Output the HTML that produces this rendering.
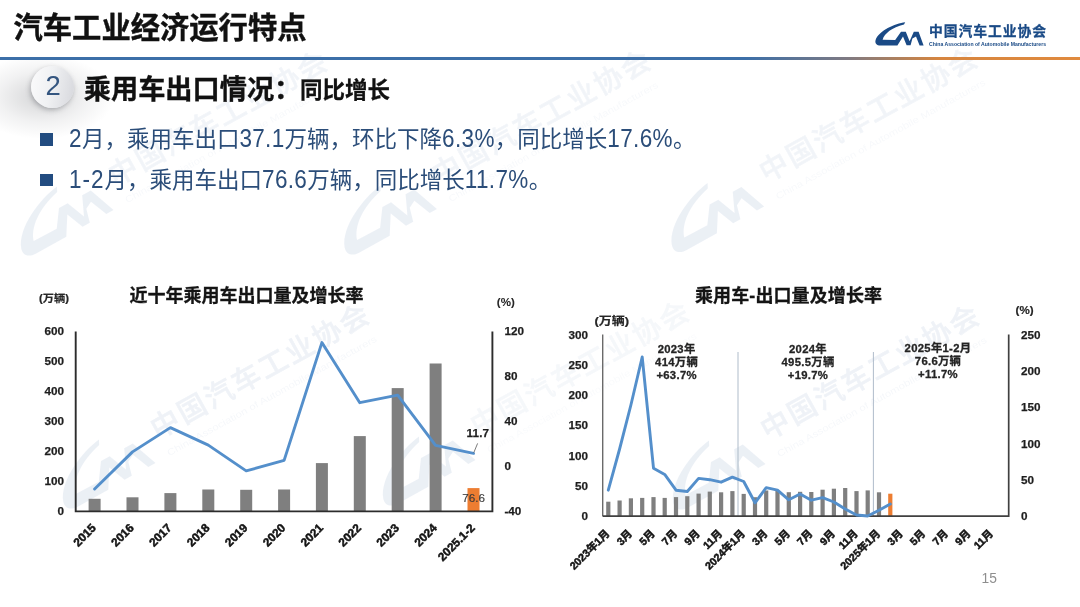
<!DOCTYPE html>
<html lang="zh-CN">
<head>
<meta charset="utf-8">
<title>汽车工业经济运行特点</title>
<style>
html,body{margin:0;padding:0;background:#fff;}
body{width:1080px;height:607px;overflow:hidden;position:relative;font-family:"Liberation Sans", "Noto Sans CJK SC", sans-serif;}
#stage{position:absolute;left:0;top:0;width:1080px;height:607px;overflow:hidden;filter:blur(.45px);background:#fff;}
.abs{position:absolute;white-space:nowrap;}
#title{left:13.5px;top:6px;font-size:29.3px;font-weight:700;color:#111;line-height:44px;letter-spacing:0;-webkit-text-stroke:.4px #111;}
#rule{left:0;top:56.8px;width:1080px;height:2.8px;background:linear-gradient(90deg,#3c6fa8 0%,#3c6fa8 69%,#7f7a82 78.5%,#d6853f 87%,#e08a3e 100%);}
#glow{left:-30px;top:55px;width:170px;height:100px;background:radial-gradient(ellipse 72px 42px at 72px 42px,rgba(90,92,98,.26),rgba(120,122,128,.10) 60%,rgba(255,255,255,0) 100%);}
#badge{left:30.6px;top:66.3px;width:43px;height:42px;border-radius:50%;background:linear-gradient(100deg,#fbfbfc 0%,#f0f1f3 45%,#d6d7dc 100%);box-shadow:-1px 2px 5px rgba(80,82,90,.38);}
#num{left:31.6px;top:64.4px;width:43px;height:43px;line-height:43px;text-align:center;font-size:27.5px;color:#34557f;}
#sub1{left:83.8px;top:70.6px;font-size:27.2px;font-weight:700;color:#111;line-height:38px;-webkit-text-stroke:.35px #111;}
#sub2{left:300px;top:73.5px;font-size:22.5px;font-weight:700;color:#111;line-height:34px;-webkit-text-stroke:.3px #111;}
.bul{left:40.2px;width:12.6px;height:12.2px;background:#224c80;}
.bt{left:69px;font-size:22.5px;color:#2b4d79;line-height:30px;}
.bt i{font-style:normal;letter-spacing:.35px;display:inline-block;transform:translateY(.4px) scaleY(1.12);transform-origin:50% 76%;}
#pg{left:981.5px;top:570.6px;font-size:13.8px;color:#8e8e8e;line-height:16px;}
svg{position:absolute;left:0;top:0;}
svg text{font-family:"Liberation Sans", "Noto Sans CJK SC", sans-serif;}
.ax{font-size:11.7px;font-weight:700;fill:#1e1e1e;stroke:#1e1e1e;stroke-width:.25px;}
.xl{font-size:11.8px;font-weight:700;fill:#141414;stroke:#141414;stroke-width:.5px;}
.axs{font-size:10.7px;font-weight:700;fill:#141414;stroke:#141414;stroke-width:.5px;}
.unit{font-size:10.5px;font-weight:700;fill:#262626;stroke:#262626;stroke-width:.2px;}
.unit2{font-size:11.6px;font-weight:700;fill:#262626;stroke:#262626;stroke-width:.2px;}
.ctitle{font-size:18px;font-weight:700;fill:#141414;stroke:#141414;stroke-width:.3px;}
.ann{font-size:11.3px;font-weight:700;fill:#242424;stroke:#242424;stroke-width:.3px;letter-spacing:.3px;}
</style>
</head>
<body>
<div id="stage">
<svg id="wm" width="1080" height="607" viewBox="0 0 1080 607"><g transform="translate(-15,207) rotate(-29)" opacity="0.085"><g transform="translate(0,0) scale(2.07)" fill="#2a5a9a"><path d="M35.2,8.2 C25,9.5 9,16.5 5.6,26 C4.6,29.5 6.8,31.6 10.5,31.6 L27.4,31.6 L33,22.5 L36.6,31.2 L40.6,31.2 L42.4,24.5 L46,22.6 L49.6,31.4 L53.6,31.4 L48.6,17.8 L43.8,17.8 L39.6,27.2 L35.8,17.8 L31,17.8 L25.2,26 L12.6,25.8 C14.5,19.5 22,13.5 34,10.6 Z"/><g opacity="0.7"><text x="60" y="21.9" font-size="13.8" font-weight="500" textLength="118" lengthAdjust="spacing" stroke="#2a5a9a" stroke-width=".28">中国汽车工业协会</text><text x="61" y="31.8" font-size="4.5" font-weight="400" textLength="115" lengthAdjust="spacingAndGlyphs" opacity="0.6">China Association of Automobile Manufacturers</text></g></g></g><g transform="translate(308.4,206) rotate(-29)" opacity="0.085"><g transform="translate(0,0) scale(2.07)" fill="#2a5a9a"><path d="M35.2,8.2 C25,9.5 9,16.5 5.6,26 C4.6,29.5 6.8,31.6 10.5,31.6 L27.4,31.6 L33,22.5 L36.6,31.2 L40.6,31.2 L42.4,24.5 L46,22.6 L49.6,31.4 L53.6,31.4 L48.6,17.8 L43.8,17.8 L39.6,27.2 L35.8,17.8 L31,17.8 L25.2,26 L12.6,25.8 C14.5,19.5 22,13.5 34,10.6 Z"/><g opacity="0.7"><text x="60" y="21.9" font-size="13.8" font-weight="500" textLength="118" lengthAdjust="spacing" stroke="#2a5a9a" stroke-width=".28">中国汽车工业协会</text><text x="61" y="31.8" font-size="4.5" font-weight="400" textLength="115" lengthAdjust="spacingAndGlyphs" opacity="0.6">China Association of Automobile Manufacturers</text></g></g></g><g transform="translate(635.6,203.5) rotate(-29)" opacity="0.085"><g transform="translate(0,0) scale(2.07)" fill="#2a5a9a"><path d="M35.2,8.2 C25,9.5 9,16.5 5.6,26 C4.6,29.5 6.8,31.6 10.5,31.6 L27.4,31.6 L33,22.5 L36.6,31.2 L40.6,31.2 L42.4,24.5 L46,22.6 L49.6,31.4 L53.6,31.4 L48.6,17.8 L43.8,17.8 L39.6,27.2 L35.8,17.8 L31,17.8 L25.2,26 L12.6,25.8 C14.5,19.5 22,13.5 34,10.6 Z"/><g opacity="0.7"><text x="60" y="21.9" font-size="13.8" font-weight="500" textLength="118" lengthAdjust="spacing" stroke="#2a5a9a" stroke-width=".28">中国汽车工业协会</text><text x="61" y="31.8" font-size="4.5" font-weight="400" textLength="115" lengthAdjust="spacingAndGlyphs" opacity="0.6">China Association of Automobile Manufacturers</text></g></g></g><g transform="translate(27,460) rotate(-29)" opacity="0.085"><g transform="translate(0,0) scale(2.07)" fill="#2a5a9a"><path d="M35.2,8.2 C25,9.5 9,16.5 5.6,26 C4.6,29.5 6.8,31.6 10.5,31.6 L27.4,31.6 L33,22.5 L36.6,31.2 L40.6,31.2 L42.4,24.5 L46,22.6 L49.6,31.4 L53.6,31.4 L48.6,17.8 L43.8,17.8 L39.6,27.2 L35.8,17.8 L31,17.8 L25.2,26 L12.6,25.8 C14.5,19.5 22,13.5 34,10.6 Z"/><g opacity="0.85"><text x="60" y="21.9" font-size="13.8" font-weight="500" textLength="118" lengthAdjust="spacing" stroke="#2a5a9a" stroke-width=".28">中国汽车工业协会</text><text x="61" y="31.8" font-size="4.5" font-weight="400" textLength="115" lengthAdjust="spacingAndGlyphs" opacity="0.6">China Association of Automobile Manufacturers</text></g></g></g><g transform="translate(347,457) rotate(-29)" opacity="0.085"><g transform="translate(0,0) scale(2.07)" fill="#2a5a9a"><path d="M35.2,8.2 C25,9.5 9,16.5 5.6,26 C4.6,29.5 6.8,31.6 10.5,31.6 L27.4,31.6 L33,22.5 L36.6,31.2 L40.6,31.2 L42.4,24.5 L46,22.6 L49.6,31.4 L53.6,31.4 L48.6,17.8 L43.8,17.8 L39.6,27.2 L35.8,17.8 L31,17.8 L25.2,26 L12.6,25.8 C14.5,19.5 22,13.5 34,10.6 Z"/><g opacity="0.5"><text x="60" y="21.9" font-size="13.8" font-weight="500" textLength="118" lengthAdjust="spacing" stroke="#2a5a9a" stroke-width=".28">中国汽车工业协会</text><text x="61" y="31.8" font-size="4.5" font-weight="400" textLength="115" lengthAdjust="spacingAndGlyphs" opacity="0.6">China Association of Automobile Manufacturers</text></g></g></g><g transform="translate(637,461) rotate(-29)" opacity="0.085"><g transform="translate(0,0) scale(2.07)" fill="#2a5a9a"><path d="M35.2,8.2 C25,9.5 9,16.5 5.6,26 C4.6,29.5 6.8,31.6 10.5,31.6 L27.4,31.6 L33,22.5 L36.6,31.2 L40.6,31.2 L42.4,24.5 L46,22.6 L49.6,31.4 L53.6,31.4 L48.6,17.8 L43.8,17.8 L39.6,27.2 L35.8,17.8 L31,17.8 L25.2,26 L12.6,25.8 C14.5,19.5 22,13.5 34,10.6 Z"/><g opacity="0.85"><text x="60" y="21.9" font-size="13.8" font-weight="500" textLength="118" lengthAdjust="spacing" stroke="#2a5a9a" stroke-width=".28">中国汽车工业协会</text><text x="61" y="31.8" font-size="4.5" font-weight="400" textLength="115" lengthAdjust="spacingAndGlyphs" opacity="0.6">China Association of Automobile Manufacturers</text></g></g></g></svg>
<div class="abs" id="glow"></div>
<div class="abs" id="title">汽车工业经济运行特点</div>
<div class="abs" id="rule"></div>
<div class="abs" id="badge"></div>
<div class="abs" id="num">2</div>
<div class="abs" id="sub1">乘用车出口情况：</div>
<div class="abs" id="sub2">同比增长</div>
<div class="abs bul" style="top:133.4px"></div>
<div class="abs bt" style="top:124.7px"><i>2</i>月，乘用车出口<i>37.1</i>万辆，环比下降<i>6.3%</i>，同比增长<i>17.6%</i>。</div>
<div class="abs bul" style="top:174px"></div>
<div class="abs bt" style="top:166.3px"><i style="letter-spacing:1px">1-2</i>月，乘用车出口<i>76.6</i>万辆，同比增长<i>11.7%</i>。</div>
<svg id="main" width="1080" height="607" viewBox="0 0 1080 607">
<g transform="translate(870,14) scale(1.0)" fill="#1a4a86"><path d="M35.2,8.2 C25,9.5 9,16.5 5.6,26 C4.6,29.5 6.8,31.6 10.5,31.6 L27.4,31.6 L33,22.5 L36.6,31.2 L40.6,31.2 L42.4,24.5 L46,22.6 L49.6,31.4 L53.6,31.4 L48.6,17.8 L43.8,17.8 L39.6,27.2 L35.8,17.8 L31,17.8 L25.2,26 L12.6,25.8 C14.5,19.5 22,13.5 34,10.6 Z"/><g><text x="59" y="21.7" font-size="13.8" font-weight="700" textLength="117" lengthAdjust="spacing" stroke="#1a4a86" stroke-width=".3">中国汽车工业协会</text><text x="59" y="32.2" font-size="5" font-weight="700" textLength="117" lengthAdjust="spacingAndGlyphs">China Association of Automobile Manufacturers</text></g></g>
<rect x="88.6" y="498.8" width="12" height="12.6" fill="#7f7f7f"/><rect x="126.5" y="497.3" width="12" height="14.1" fill="#7f7f7f"/><rect x="164.4" y="493.1" width="12" height="18.3" fill="#7f7f7f"/><rect x="202.3" y="489.5" width="12" height="21.9" fill="#7f7f7f"/><rect x="240.2" y="489.8" width="12" height="21.6" fill="#7f7f7f"/><rect x="278.1" y="489.5" width="12" height="21.9" fill="#7f7f7f"/><rect x="315.9" y="463.1" width="12" height="48.3" fill="#7f7f7f"/><rect x="353.8" y="436.1" width="12" height="75.3" fill="#7f7f7f"/><rect x="391.7" y="388.1" width="12" height="123.3" fill="#7f7f7f"/><rect x="429.6" y="363.5" width="12" height="147.9" fill="#7f7f7f"/><rect x="467.5" y="488.1" width="12" height="23.2" fill="#ed7d31"/><path d="M75.7,331.4 V511.4 H492.4 V331.4" fill="none" stroke="#2c2c2c" stroke-width="1.9"/><polyline points="94.6,489 132.5,451.9 170.4,427.6 208.3,445.1 246.2,470.9 284.1,460.4 321.9,342.6 359.8,402.7 397.7,395.2 435.6,445.3 473.5,453.4" fill="none" stroke="#548fcb" stroke-width="2.9" stroke-linejoin="round" stroke-linecap="round"/><text x="64" y="515.4" text-anchor="end" class="ax">0</text><text x="64" y="485.4" text-anchor="end" class="ax">100</text><text x="64" y="455.4" text-anchor="end" class="ax">200</text><text x="64" y="425.4" text-anchor="end" class="ax">300</text><text x="64" y="395.4" text-anchor="end" class="ax">400</text><text x="64" y="365.4" text-anchor="end" class="ax">500</text><text x="64" y="335.4" text-anchor="end" class="ax">600</text><text x="504.4" y="515.4" class="ax">-40</text><text x="504.4" y="470.4" class="ax">0</text><text x="504.4" y="425.4" class="ax">40</text><text x="504.4" y="380.4" class="ax">80</text><text x="504.4" y="335.4" class="ax">120</text><text transform="translate(96.7,528.7) rotate(-45)" text-anchor="end" class="xl">2015</text><text transform="translate(134.6,528.7) rotate(-45)" text-anchor="end" class="xl">2016</text><text transform="translate(172.5,528.7) rotate(-45)" text-anchor="end" class="xl">2017</text><text transform="translate(210.4,528.7) rotate(-45)" text-anchor="end" class="xl">2018</text><text transform="translate(248.3,528.7) rotate(-45)" text-anchor="end" class="xl">2019</text><text transform="translate(286.2,528.7) rotate(-45)" text-anchor="end" class="xl">2020</text><text transform="translate(324.0,528.7) rotate(-45)" text-anchor="end" class="xl">2021</text><text transform="translate(361.9,528.7) rotate(-45)" text-anchor="end" class="xl">2022</text><text transform="translate(399.8,528.7) rotate(-45)" text-anchor="end" class="xl">2023</text><text transform="translate(437.7,528.7) rotate(-45)" text-anchor="end" class="xl">2024</text><text transform="translate(475.6,528.7) rotate(-45)" text-anchor="end" class="xl">2025.1-2</text><text x="38.9" y="301.6" class="unit" textLength="30" lengthAdjust="spacingAndGlyphs">(万辆)</text><text x="496.8" y="306.2" class="unit" textLength="18" lengthAdjust="spacingAndGlyphs" style="stroke-width:.05px">(%)</text><text x="129.5" y="302.2" class="ctitle" textLength="234" lengthAdjust="spacing">近十年乘用车出口量及增长率</text><text x="466.6" y="437.2" class="ax" textLength="22.4" lengthAdjust="spacing">11.7</text><path d="M477.6,443.4 L473.8,452.6" fill="none" stroke="#5a5a5a" stroke-width="0.8"/><text x="473.6" y="501.6" text-anchor="middle" font-size="11.7" fill="#3a3a3a" stroke="#3a3a3a" stroke-width=".15">76.6</text>
<rect x="606.2" y="501.7" width="4.2" height="14.5" fill="#7f7f7f"/><rect x="617.5" y="500.5" width="4.2" height="15.7" fill="#7f7f7f"/><rect x="628.8" y="498.3" width="4.2" height="17.9" fill="#7f7f7f"/><rect x="640.1" y="497.9" width="4.2" height="18.3" fill="#7f7f7f"/><rect x="651.4" y="497.1" width="4.2" height="19.1" fill="#7f7f7f"/><rect x="662.6" y="497.9" width="4.2" height="18.3" fill="#7f7f7f"/><rect x="673.9" y="497.1" width="4.2" height="19.1" fill="#7f7f7f"/><rect x="685.2" y="496.2" width="4.2" height="20.0" fill="#7f7f7f"/><rect x="696.5" y="493.6" width="4.2" height="22.6" fill="#7f7f7f"/><rect x="707.7" y="491.6" width="4.2" height="24.6" fill="#7f7f7f"/><rect x="719.0" y="492.3" width="4.2" height="23.9" fill="#7f7f7f"/><rect x="730.3" y="491.1" width="4.2" height="25.1" fill="#7f7f7f"/><rect x="741.6" y="493.9" width="4.2" height="22.3" fill="#7f7f7f"/><rect x="752.9" y="497.2" width="4.2" height="19.0" fill="#7f7f7f"/><rect x="764.1" y="490.5" width="4.2" height="25.7" fill="#7f7f7f"/><rect x="775.4" y="490.3" width="4.2" height="25.9" fill="#7f7f7f"/><rect x="786.7" y="492.2" width="4.2" height="24.0" fill="#7f7f7f"/><rect x="798.0" y="491.8" width="4.2" height="24.4" fill="#7f7f7f"/><rect x="809.2" y="492.0" width="4.2" height="24.2" fill="#7f7f7f"/><rect x="820.5" y="489.7" width="4.2" height="26.5" fill="#7f7f7f"/><rect x="831.8" y="488.7" width="4.2" height="27.5" fill="#7f7f7f"/><rect x="843.1" y="488.0" width="4.2" height="28.2" fill="#7f7f7f"/><rect x="854.4" y="491.1" width="4.2" height="25.1" fill="#7f7f7f"/><rect x="865.6" y="490.4" width="4.2" height="25.8" fill="#7f7f7f"/><rect x="876.9" y="492.3" width="4.2" height="23.9" fill="#7f7f7f"/><rect x="888.2" y="493.7" width="4.2" height="22.5" fill="#ed7d31"/><line x1="738.0" y1="352" x2="738.0" y2="516.2" stroke="#a6b4c4" stroke-width="0.9"/><line x1="873.4" y1="352" x2="873.4" y2="516.2" stroke="#a6b4c4" stroke-width="0.9"/><path d="M602.7,334.6 V516.2" fill="none" stroke="#6a6a6a" stroke-width="1.4"/><path d="M602.7,516.2 H1008.7 V334.6" fill="none" stroke="#404040" stroke-width="1.7"/><polyline points="608.3,490.2 619.6,449 630.9,405 642.2,357 653.5,468.2 664.7,474.4 676.0,490.2 687.3,491.5 698.6,478.4 709.8,479.7 721.1,482.2 732.4,477.2 743.7,481.5 755.0,502.8 766.2,487.7 777.5,490.2 788.8,499.8 800.1,494 811.3,500.2 822.6,497.7 833.9,502 845.2,509 856.5,515 867.7,516 879.0,510.3 890.3,504" fill="none" stroke="#548fcb" stroke-width="2.9" stroke-linejoin="round" stroke-linecap="round"/><text x="588" y="520.2" text-anchor="end" class="ax">0</text><text x="588" y="489.9" text-anchor="end" class="ax">50</text><text x="588" y="459.7" text-anchor="end" class="ax">100</text><text x="588" y="429.4" text-anchor="end" class="ax">150</text><text x="588" y="399.1" text-anchor="end" class="ax">200</text><text x="588" y="368.9" text-anchor="end" class="ax">250</text><text x="588" y="338.6" text-anchor="end" class="ax">300</text><text x="1021" y="520.2" class="ax">0</text><text x="1021" y="483.9" class="ax">50</text><text x="1021" y="447.6" class="ax">100</text><text x="1021" y="411.2" class="ax">150</text><text x="1021" y="374.9" class="ax">200</text><text x="1021" y="338.6" class="ax">250</text><text transform="translate(610.3,534.2) rotate(-45)" text-anchor="end" class="axs">2023年1月</text><text transform="translate(632.9,534.2) rotate(-45)" text-anchor="end" class="axs">3月</text><text transform="translate(655.5,534.2) rotate(-45)" text-anchor="end" class="axs">5月</text><text transform="translate(678.0,534.2) rotate(-45)" text-anchor="end" class="axs">7月</text><text transform="translate(700.6,534.2) rotate(-45)" text-anchor="end" class="axs">9月</text><text transform="translate(723.1,534.2) rotate(-45)" text-anchor="end" class="axs">11月</text><text transform="translate(745.7,534.2) rotate(-45)" text-anchor="end" class="axs">2024年1月</text><text transform="translate(768.2,534.2) rotate(-45)" text-anchor="end" class="axs">3月</text><text transform="translate(790.8,534.2) rotate(-45)" text-anchor="end" class="axs">5月</text><text transform="translate(813.3,534.2) rotate(-45)" text-anchor="end" class="axs">7月</text><text transform="translate(835.9,534.2) rotate(-45)" text-anchor="end" class="axs">9月</text><text transform="translate(858.5,534.2) rotate(-45)" text-anchor="end" class="axs">11月</text><text transform="translate(881.0,534.2) rotate(-45)" text-anchor="end" class="axs">2025年1月</text><text transform="translate(903.6,534.2) rotate(-45)" text-anchor="end" class="axs">3月</text><text transform="translate(926.1,534.2) rotate(-45)" text-anchor="end" class="axs">5月</text><text transform="translate(948.7,534.2) rotate(-45)" text-anchor="end" class="axs">7月</text><text transform="translate(971.2,534.2) rotate(-45)" text-anchor="end" class="axs">9月</text><text transform="translate(993.8,534.2) rotate(-45)" text-anchor="end" class="axs">11月</text><text x="594.4" y="325.4" class="unit2" textLength="34.6" lengthAdjust="spacingAndGlyphs">(万辆)</text><text x="1015.6" y="314" class="unit2">(%)</text><text x="695" y="302.2" class="ctitle" textLength="187" lengthAdjust="spacing">乘用车-出口量及增长率</text><text x="676.6" y="353" text-anchor="middle" class="ann">2023年</text><text x="676.6" y="366.2" text-anchor="middle" class="ann">414万辆</text><text x="676.6" y="379.2" text-anchor="middle" class="ann">+63.7%</text><text x="808" y="353" text-anchor="middle" class="ann">2024年</text><text x="808" y="366.2" text-anchor="middle" class="ann">495.5万辆</text><text x="808" y="379.2" text-anchor="middle" class="ann">+19.7%</text><text x="938" y="352.2" text-anchor="middle" class="ann">2025年1-2月</text><text x="938" y="365.3" text-anchor="middle" class="ann">76.6万辆</text><text x="938" y="378.2" text-anchor="middle" class="ann">+11.7%</text>
</svg>
<div class="abs" id="pg">15</div>
</div>
</body>
</html>
